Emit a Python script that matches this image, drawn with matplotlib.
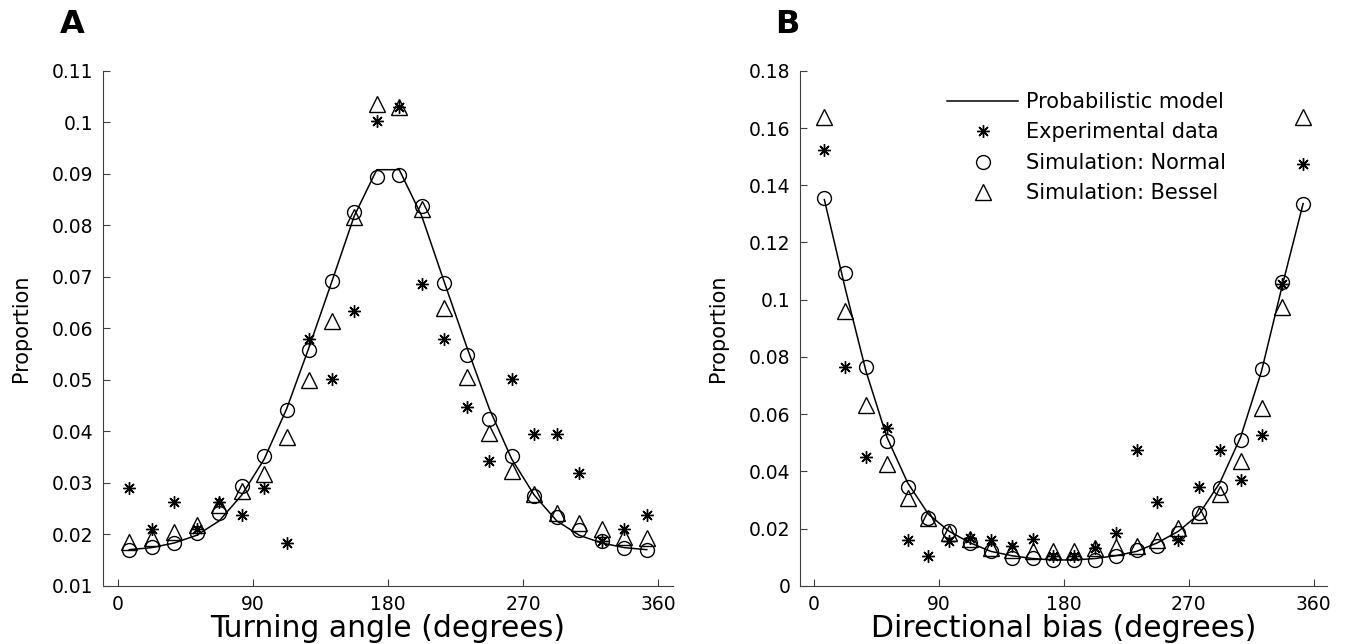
import numpy as np
import matplotlib
matplotlib.use("Agg")
import matplotlib.pyplot as plt

# bin centres (degrees), same for both panels
angles = np.arange(7.5, 360, 15)

# Panel A: turning angle
turn_model = [0.0170, 0.0174, 0.0183, 0.0198, 0.0226, 0.0276, 0.0346, 0.0444,
              0.0564, 0.0690, 0.0818, 0.0908, 0.0908, 0.0818, 0.0690, 0.0564,
              0.0444, 0.0346, 0.0276, 0.0226, 0.0198, 0.0183, 0.0174, 0.0170]
turn_exp = [0.0289, 0.0211, 0.0263, 0.0211, 0.0263, 0.0237, 0.0289, 0.0183,
            0.0580, 0.0501, 0.0633, 0.1002, 0.1029, 0.0686, 0.0580, 0.0448,
            0.0343, 0.0501, 0.0395, 0.0395, 0.0318, 0.0187, 0.0211, 0.0237]
turn_normal = [0.0169, 0.0176, 0.0182, 0.0202, 0.0241, 0.0294, 0.0352, 0.0441,
               0.0558, 0.0691, 0.0825, 0.0894, 0.0898, 0.0838, 0.0687, 0.0548,
               0.0423, 0.0352, 0.0274, 0.0234, 0.0208, 0.0187, 0.0173, 0.0169]
turn_bessel = [0.0185, 0.0192, 0.0205, 0.0218, 0.0257, 0.0283, 0.0317, 0.0389,
               0.0499, 0.0615, 0.0816, 0.1035, 0.1029, 0.0832, 0.0640, 0.0505,
               0.0396, 0.0323, 0.0278, 0.0241, 0.0222, 0.0210, 0.0195, 0.0192]

# Panel B: directional bias
dir_model = [0.1350, 0.1040, 0.0750, 0.0520, 0.0360, 0.0250, 0.0190, 0.0150,
             0.0120, 0.0105, 0.0095, 0.0090, 0.0090, 0.0095, 0.0105, 0.0120,
             0.0150, 0.0190, 0.0250, 0.0360, 0.0520, 0.0750, 0.1050, 0.1336]
dir_exp = [0.1525, 0.0765, 0.0450, 0.0551, 0.0161, 0.0105, 0.0158, 0.0167,
           0.0161, 0.0138, 0.0163, 0.0103, 0.0105, 0.0132, 0.0186, 0.0476,
           0.0291, 0.0161, 0.0345, 0.0476, 0.0371, 0.0528, 0.1054, 0.1474]
dir_normal = [0.1354, 0.1092, 0.0765, 0.0505, 0.0345, 0.0237, 0.0192, 0.0149,
              0.0120, 0.0097, 0.0097, 0.0089, 0.0091, 0.0091, 0.0105, 0.0124,
              0.0140, 0.0186, 0.0254, 0.0342, 0.0508, 0.0757, 0.1062, 0.1336]
dir_bessel = [0.1639, 0.0961, 0.0633, 0.0427, 0.0307, 0.0237, 0.0184, 0.0163,
              0.0132, 0.0126, 0.0120, 0.0123, 0.0120, 0.0132, 0.0137, 0.0140,
              0.0161, 0.0202, 0.0248, 0.0322, 0.0435, 0.0621, 0.0973, 0.1639]

xticks = [0, 90, 180, 270, 360]
a_yticks = [0.01, 0.02, 0.03, 0.04, 0.05, 0.06, 0.07, 0.08, 0.09, 0.1, 0.11]
b_yticks = [0, 0.02, 0.04, 0.06, 0.08, 0.1, 0.12, 0.14, 0.16, 0.18]

labels = ['Probabilistic model', 'Experimental data',
          'Simulation: Normal', 'Simulation: Bessel']

plt.rcParams['font.family'] = 'DejaVu Sans'
fig = plt.figure(figsize=(13.46, 6.44), dpi=100)
axA = fig.add_axes([0.0765, 0.0905, 0.4235, 0.7995])
axB = fig.add_axes([0.5944, 0.0905, 0.3918, 0.7995])

asterisk = (8, 2, 0)


def draw(ax, model, exp, normal, bessel):
    ax.plot(angles, model, '-', color='black', lw=1.1, label=labels[0])
    ax.plot(angles, exp, ls='none', marker=asterisk, ms=9, mec='black',
            mew=1.0, label=labels[1])
    ax.plot(angles, normal, ls='none', marker='o', ms=10, mfc='none',
            mec='black', mew=1.0, label=labels[2])
    ax.plot(angles, bessel, ls='none', marker='^', ms=11, mfc='none',
            mec='black', mew=1.0, label=labels[3])
    ax.set_xlim(-10, 370)
    ax.set_xticks(xticks)
    for s in ['top', 'right']:
        ax.spines[s].set_visible(False)
    for s in ['left', 'bottom']:
        ax.spines[s].set_color('#404040')
    ax.tick_params(direction='in', length=5, labelsize=13.5, color='#404040', pad=7)
    ax.set_ylabel('Proportion', fontsize=15, labelpad=15)


draw(axA, turn_model, turn_exp, turn_normal, turn_bessel)
axA.set_ylim(0.01, 0.11)
axA.set_yticks(a_yticks)
axA.set_yticklabels([f'{v:g}' for v in a_yticks])
axA.set_xlabel('Turning angle (degrees)', fontsize=21.5, labelpad=0)

draw(axB, dir_model, dir_exp, dir_normal, dir_bessel)
axB.set_ylim(0, 0.18)
axB.set_yticks(b_yticks)
axB.set_yticklabels([f'{v:g}' for v in b_yticks])
axB.set_xlabel('Directional bias (degrees)', fontsize=21.5, labelpad=0)
axB.legend(frameon=False, fontsize=15, loc='upper left',
           bbox_to_anchor=(0.263, 0.975), handlelength=3.4,
           handletextpad=0.4, labelspacing=0.5, borderaxespad=0)

fig.text(0.0535, 0.962, 'A', fontsize=23, fontweight='bold', ha='center', va='center')
fig.text(0.585, 0.962, 'B', fontsize=23, fontweight='bold', ha='center', va='center')

fig.savefig('out.png', dpi=100)
